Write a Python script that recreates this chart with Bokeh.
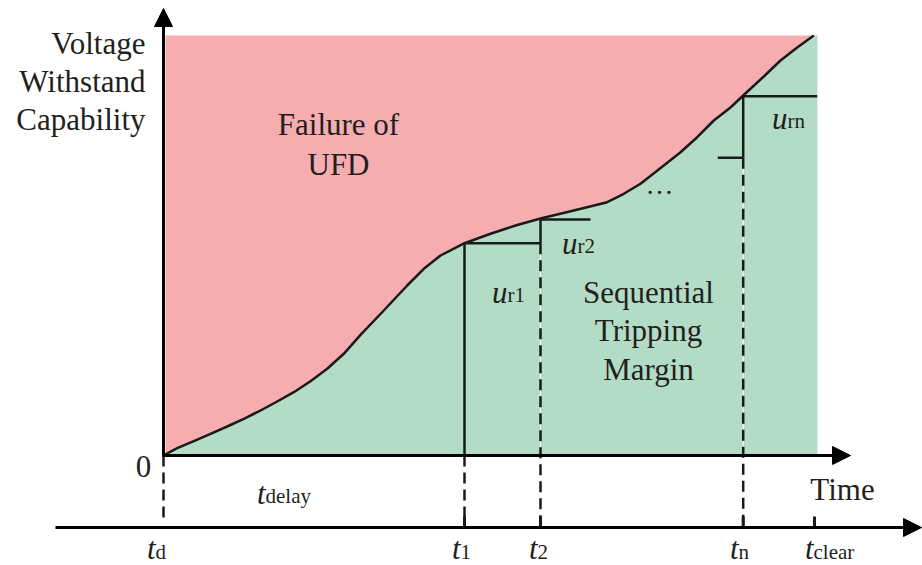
from bokeh.plotting import figure
from bokeh.models import Range1d, Arrow, NormalHead
from bokeh.core.properties import value
from bokeh.embed import file_html
from bokeh.resources import INLINE

# ---------------- data ----------------
# withstand-capability curve (time, voltage), schematic units
curve_t = [0.000, 0.137, 0.303, 0.470, 0.637, 0.803, 0.970, 1.137, 1.303, 1.470,
           1.637, 1.803, 1.970, 2.203, 2.437, 2.603, 2.770, 3.010, 3.270, 3.520,
           3.770, 4.103, 4.437, 4.603, 4.770, 5.003, 5.170, 5.337, 5.503, 5.670,
           5.797, 6.003, 6.170, 6.337, 6.503, 6.537]
curve_v = [0.000, 0.073, 0.143, 0.217, 0.290, 0.367, 0.450, 0.540, 0.633, 0.743,
           0.867, 1.017, 1.207, 1.450, 1.700, 1.867, 2.000, 2.123, 2.217, 2.300,
           2.370, 2.450, 2.533, 2.617, 2.717, 2.900, 3.033, 3.183, 3.350, 3.480,
           3.600, 3.790, 3.950, 4.080, 4.200, 4.200]
region_t = [0.02, 6.537]
region_top = 4.20

trip_times = [3.01, 3.77, 5.797]          # t1, t2, tn
trip_levels = [2.123, 2.36, 3.593]        # level reached at each trip
step_tn_prev = 2.977                      # level before tn
step_tn_prev_start = 5.543
step_t2_end = 4.27
step_tn_end = 6.537
t_clear = 6.51
t_d = 0.0

lower_axis_v = -0.72
lower_axis_t = [-1.08, 7.58]
upper_axis_t_end = 6.87
y_axis_top = 4.47

# labels
word_lines = ["Voltage", "Withstand", "Capability"]
word_t = [-0.18, -0.18, -0.18]
word_v = [4.125, 3.745, 3.365]
mid_labels = ["Failure of", "UFD", "Sequential", "Tripping", "Margin", "Time", "0"]
mid_t = [1.75, 1.75, 4.85, 4.85, 4.85, 6.79, -0.20]
mid_v = [3.315, 2.915, 1.635, 1.255, 0.865, -0.335, -0.105]

main_sym = ["t", "t", "t", "t", "t", "t", "u", "u", "u"]
sub_sym = ["delay", "d", "1", "2", "n", "clear", "r1", "r2", "rn"]
sym_t = [1.02, -0.08, 2.97, 3.74, 5.75, 6.50, 3.44, 4.14, 6.24]
sym_v = [-0.375, -0.93, -0.93, -0.93, -0.93, -0.93, 1.635, 2.125, 3.375]

ellipsis_t = [4.96]
ellipsis_v = [2.715]

PINK = "#F5ADB0"
GREEN = "#B2DCC6"
INK = "#1a1a1a"
TXT = "#231f20"
FONT = value("Liberation Serif")

p = figure(width=922, height=565, x_range=Range1d(-1.63, 7.59), y_range=Range1d(-1.10, 4.55),
           output_backend="svg", toolbar_location=None, x_axis_type=None, y_axis_type=None,
           min_border=0)
p.grid.visible = False
p.outline_line_color = None
p.background_fill_color = "white"

# regions
p.varea(x=region_t, y1=[0, 0], y2=[region_top, region_top], fill_color=PINK)
p.varea(x=curve_t, y1=[0] * len(curve_t), y2=curve_v, fill_color=GREEN)
p.line(curve_t[:-1], curve_v[:-1], line_color=INK, line_width=2.5, line_join="round")

# dashed guide lines (white underlay then dashes)
dash_x = [t_d, trip_times[0], trip_times[1], trip_times[2]]
dash_top = [0.0, 0.0, trip_levels[0], step_tn_prev]
dash_bot = [-0.63, lower_axis_v, lower_axis_v, lower_axis_v]
p.segment(x0=dash_x[2:], y0=dash_top[2:], x1=dash_x[2:], y1=[0, 0], line_color="white", line_width=1)
p.segment(x0=dash_x, y0=dash_top, x1=dash_x, y1=dash_bot, line_color=INK, line_width=2.5,
          line_dash="11 6")

# solid step lines
sx0 = [trip_times[0], trip_times[0], trip_times[1], trip_times[1], step_tn_prev_start,
       trip_times[2], trip_times[2]]
sy0 = [0.0, trip_levels[0], trip_levels[0], trip_levels[1], step_tn_prev, step_tn_prev,
       trip_levels[2]]
sx1 = [trip_times[0], trip_times[1], trip_times[1], step_t2_end, trip_times[2],
       trip_times[2], step_tn_end]
sy1 = [trip_levels[0], trip_levels[0], trip_levels[1], trip_levels[1], step_tn_prev,
       trip_levels[2], trip_levels[2]]
p.segment(x0=sx0, y0=sy0, x1=sx1, y1=sy1, line_color=INK, line_width=2.5)

# ticks on lower time axis
tick_t = trip_times + [t_clear]
p.segment(x0=tick_t, y0=[lower_axis_v + 0.11] * 4, x1=tick_t, y1=[lower_axis_v] * 4,
          line_color=INK, line_width=3)

# axes with arrowheads
def head():
    return NormalHead(size=18, fill_color="black", line_color="black", line_width=1)

p.add_layout(Arrow(end=head(), x_start=0, y_start=-0.01, x_end=0, y_end=y_axis_top,
                   line_width=3, line_color="black"))
p.add_layout(Arrow(end=head(), x_start=-0.01, y_start=0, x_end=upper_axis_t_end, y_end=0,
                   line_width=3, line_color="black"))
p.add_layout(Arrow(end=head(), x_start=lower_axis_t[0], y_start=lower_axis_v,
                   x_end=lower_axis_t[1], y_end=lower_axis_v, line_width=3, line_color="black"))

# texts
p.text(x=word_t, y=word_v, text=word_lines, text_font=FONT, text_font_size="31px",
       text_align="right", text_baseline="alphabetic", text_color=TXT)
p.text(x=mid_t, y=mid_v, text=mid_labels, text_font=FONT, text_font_size="31px",
       text_align="center", text_baseline="alphabetic", text_color=TXT)
p.text(x=ellipsis_t, y=ellipsis_v, text=["\u2026"], text_font=FONT, text_font_size="28px",
       text_align="center", text_baseline="alphabetic", text_color=TXT)
p.text(x=sym_t, y=sym_v, text=main_sym, text_font=FONT, text_font_size="31px",
       text_font_style="italic", text_align="right", text_baseline="alphabetic", text_color=TXT)
p.text(x=sym_t, y=sym_v, text=sub_sym, text_font=FONT, text_font_size="21px",
       text_align="left", text_baseline="alphabetic", text_color=TXT, y_offset=3)

open("out.html", "w").write(file_html(p, INLINE))
